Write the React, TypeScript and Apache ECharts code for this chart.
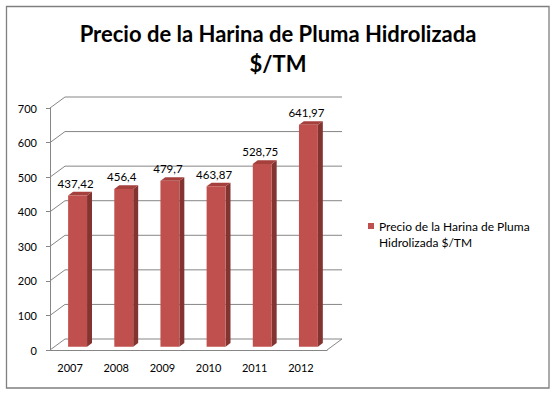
import React, { useEffect, useRef } from 'react';
import * as echarts from 'echarts';

const categories = ['2007', '2008', '2009', '2010', '2011', '2012'];
const values = [437.42, 456.4, 479.7, 463.87, 528.75, 641.97];
const yTicks = [0, 100, 200, 300, 400, 500, 600, 700];
const seriesName = 'Precio de la Harina de Pluma Hidrolizada $/TM';
const titleLines = ['Precio de la Harina de Pluma Hidrolizada', '$/TM'];

const DX = 15;
const DY = -11;
const F0 = 0.3;
const F1 = 0.63;
const FONT = "Lato, 'Noto Sans', sans-serif";
const FRONT = '#C0504D';
const SIDE = '#833431';
const TOP = '#A5403D';
const GRID = '#868686';

const fmt = (v: number) => String(v).replace('.', ',');

export default function App() {
  const ref = useRef<HTMLDivElement>(null);
  useEffect(() => {
    const chart = echarts.init(ref.current!, null, { renderer: 'svg' });
    chart.setOption({
      animation: false,
      backgroundColor: '#ffffff',
      title: {
        text: titleLines.join('\n'),
        left: 'center',
        top: 13,
        textStyle: { fontFamily: FONT, fontSize: 22, fontWeight: 'bold', color: '#000', lineHeight: 30 },
      },
      legend: {
        data: [{ name: seriesName, icon: 'path://M0 0H6V6H0ZM0 22L0.01 22' }],
        left: 368,
        top: 218,
        itemWidth: 6,
        itemHeight: 22,
        padding: 0,
        formatter: (name: string) => name.replace(' Hidrolizada', '\nHidrolizada'),
        textStyle: { fontSize: 12, fontFamily: FONT, color: '#000', lineHeight: 16 },
      },
      graphic: [
        {
          type: 'rect',
          silent: true,
          z: -10,
          shape: { x: 6.5, y: 6.5, width: 542.5, height: 381.5 },
          style: { fill: 'none', stroke: '#7f7f7f', lineWidth: 1.3 },
        },
      ],
      grid: { left: 50, top: 108, width: 277, height: 242 },
      xAxis: {
        type: 'category',
        data: categories,
        axisLine: { lineStyle: { color: GRID } },
        axisTick: { length: 5, lineStyle: { color: GRID } },
        axisLabel: { margin: 12, fontSize: 11, color: '#000', fontFamily: FONT, padding: [0, 6, 0, 0] },
      },
      yAxis: {
        type: 'value',
        min: 0,
        max: 700,
        interval: 100,
        axisLine: { show: true, lineStyle: { color: GRID } },
        axisTick: { show: true, length: 4, lineStyle: { color: GRID } },
        splitLine: { show: false },
        axisLabel: { margin: 13, fontSize: 11, color: '#000', fontFamily: FONT },
      },
      series: [
        {
          type: 'custom',
          name: 'wall',
          silent: true,
          data: yTicks.map((t) => [0, t]),
          encode: { x: 0, y: 1 },
          renderItem: (params: any, api: any) => {
            const v = api.value(1);
            const cs = params.coordSys;
            const y = api.coord([0, v])[1];
            const x0 = cs.x;
            const x1 = cs.x + cs.width;
            const children: any[] = [
              {
                type: 'polyline',
                shape: { points: [[x0, y], [x0 + DX, y + DY], [x1 + DX, y + DY]] },
                style: { stroke: GRID, lineWidth: 1, fill: 'none' },
              },
            ];
            if (v === 0) {
              children.push({
                type: 'line',
                shape: { x1: x1, y1: y, x2: x1 + DX, y2: y + DY },
                style: { stroke: GRID, lineWidth: 1 },
              });
            }
            return { type: 'group', children };
          },
        },
        {
          type: 'custom',
          name: seriesName,
          itemStyle: { color: FRONT },
          data: values.map((v, i) => [i, v]),
          encode: { x: 0, y: 1 },
          renderItem: (params: any, api: any) => {
            const i = api.value(0);
            const v = api.value(1);
            const top = api.coord([i, v]);
            const base = api.coord([i, 0]);
            const band = api.size([1, 0])[0];
            const w = band * 0.41;
            const ox = DX * F0;
            const oy = DY * F0;
            const dx = DX * (F1 - F0);
            const dy = DY * (F1 - F0);
            const xl = top[0] + ox - w / 2;
            const xr = xl + w;
            const yt = top[1] + oy;
            const yb = base[1] + oy;
            return {
              type: 'group',
              children: [
                {
                  type: 'polygon',
                  shape: { points: [[xr, yt], [xr + dx, yt + dy], [xr + dx, yb + dy], [xr, yb]] },
                  style: { fill: SIDE },
                },
                {
                  type: 'polygon',
                  shape: { points: [[xl, yt], [xr, yt], [xr + dx, yt + dy], [xl + dx, yt + dy]] },
                  style: { fill: TOP },
                },
                {
                  type: 'rect',
                  shape: { x: xl, y: yt, width: w, height: yb - yt },
                  style: { fill: FRONT },
                },
                {
                  type: 'text',
                  style: {
                    text: fmt(v),
                    x: xl + w / 2 - 2,
                    y: yt - 12,
                    align: 'center',
                    verticalAlign: 'middle',
                    fontSize: 11.5,
                    fontFamily: FONT,
                    fill: '#000',
                  },
                },
              ],
            };
          },
        },
      ],
    });
    return () => chart.dispose();
  }, []);
  return <div ref={ref} style={{ position: 'absolute', left: 0, top: 0, width: 556, height: 395 }} />;
}
